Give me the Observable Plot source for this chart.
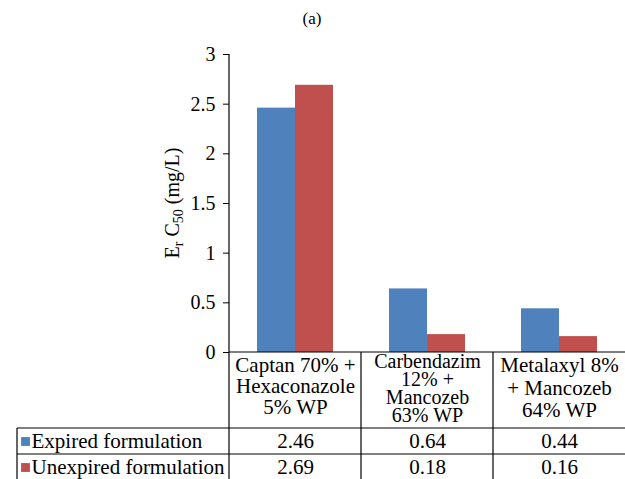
<!DOCTYPE html>
<html><head><meta charset="utf-8">
<script src="https://cdn.jsdelivr.net/npm/d3@7"></script>
<script src="https://cdn.jsdelivr.net/npm/@observablehq/plot@0.6"></script>
<style>html,body{margin:0;padding:0;background:#fff}svg{display:block}#chart text,#chart tspan{font-family:"Liberation Serif" !important}</style>
</head><body><div id="chart"></div>
<script>
const title = "(a)";
const categories = ["Captan 70% + Hexaconazole 5% WP", "Carbendazim 12% + Mancozeb 63% WP", "Metalaxyl 8% + Mancozeb 64% WP"];
const headerLines = [["Captan 70% +", "Hexaconazole", "5% WP"], ["Carbendazim", "12% +", "Mancozeb", "63% WP"], ["Metalaxyl 8%", "+ Mancozeb", "64% WP"]];
const series = ["Expired formulation", "Unexpired formulation"];
const expired = [2.46, 0.64, 0.44];
const unexpired = [2.69, 0.18, 0.16];
const yTicks = [0, 0.5, 1, 1.5, 2, 2.5, 3];
const colors = ["#4F81BD", "#C0504D"];

const rows = categories.flatMap((c, i) => [
  {cat: c, series: series[0], value: expired[i]},
  {cat: c, series: series[1], value: unexpired[i]}
]);

const FF = "Liberation Serif";
const W = 625, H = 479, mT = 54, mB = 127, mL = 229;
const bw = (W - mL) / 3;
const barW = 38;
const outer = (bw - 2 * barW) / 2;
const FS = 21;

const headerLayout = [{dy: 5, lh: 1.0, fs: 21}, {dy: 3, lh: 0.9, fs: 20}, {dy: 4, lh: 1.07, fs: 21}];

const marks = [
  Plot.barY(rows.filter(d => d.series === series[0]), {x: "cat", y: "value", fill: "series", insetLeft: outer, insetRight: bw - outer - barW}),
  Plot.barY(rows.filter(d => d.series === series[1]), {x: "cat", y: "value", fill: "series", insetLeft: outer + barW, insetRight: outer}),
  Plot.axisY({ticks: yTicks, tickFormat: d => String(d), tickSize: 6, tickPadding: 8, fontSize: 20, fontFamily: FF, label: null}),
  ...categories.map((c, i) => Plot.text([c], {
    x: d => d, text: () => headerLines[i].join("\n"), frameAnchor: "bottom", lineAnchor: "top",
    dy: headerLayout[i].dy, lineHeight: headerLayout[i].lh, fontSize: headerLayout[i].fs, fontFamily: FF, fill: "#000"
  })),
  Plot.text(rows.filter(d => d.series === series[0]), {x: "cat", text: d => d.value.toFixed(2), frameAnchor: "bottom", lineAnchor: "top", dy: 81, fontSize: FS, fontFamily: FF, fill: "#000"}),
  Plot.text(rows.filter(d => d.series === series[1]), {x: "cat", text: d => d.value.toFixed(2), frameAnchor: "bottom", lineAnchor: "top", dy: 107, fontSize: FS, fontFamily: FF, fill: "#000"}),
  Plot.text([series[0]], {text: d => d, frameAnchor: "bottom-left", textAnchor: "start", lineAnchor: "top", dx: 31 - mL, dy: 81, fontSize: FS, fontFamily: FF, fill: "#000"}),
  Plot.text([series[1]], {text: d => d, frameAnchor: "bottom-left", textAnchor: "start", lineAnchor: "top", dx: 31 - mL, dy: 107, fontSize: FS, fontFamily: FF, fill: "#000"}),
  Plot.dot([series[0]], {fill: d => d, symbol: "square", r: 5, frameAnchor: "bottom-left", dx: 25 - mL, dy: 89}),
  Plot.dot([series[1]], {fill: d => d, symbol: "square", r: 5, frameAnchor: "bottom-left", dx: 25 - mL, dy: 115})
];

const plot = Plot.plot({
  width: W, height: H,
  marginTop: mT, marginBottom: mB, marginLeft: mL, marginRight: 0,
  x: {domain: categories, padding: 0, axis: null},
  y: {domain: [0, 3], axis: null},
  color: {domain: series, range: colors},
  marks
});

document.getElementById("chart").appendChild(plot);
plot.setAttribute("font-family", FF);
plot.removeAttribute("class");
plot.style.background = "#fff";

const svg = d3.select(plot);
const xs = plot.scale("x"), ys = plot.scale("y");
const left = xs.range[0], right = W;
const yTop = ys.apply(3), yZero = ys.apply(0);
const hdrBottom = yZero + 76, row1Bottom = hdrBottom + 26;
const g = svg.append("g").attr("stroke", "#000").attr("stroke-width", 1.2).attr("fill", "none");
const seg = (x1, y1, x2, y2) => g.append("line").attr("x1", x1).attr("y1", y1).attr("x2", x2).attr("y2", y2);
seg(left, yTop, left, H);
seg(left, yZero, right, yZero);
categories.slice(0, -1).forEach(c => {
  const xb = xs.apply(c) + xs.bandwidth;
  seg(xb, yZero, xb, H);
});
seg(17, hdrBottom, right, hdrBottom);
seg(17, row1Bottom, right, row1Bottom);
seg(17, hdrBottom, 17, H);

svg.append("text").attr("x", 312).attr("y", 24).attr("text-anchor", "middle")
  .attr("font-family", FF).attr("font-size", 17).attr("fill", "#000").text(title);

const yl = svg.append("text").attr("transform", `translate(179,${(yTop + yZero) / 2}) rotate(-90)`)
  .attr("text-anchor", "middle").attr("font-family", FF).attr("font-size", 20).attr("fill", "#000");
yl.append("tspan").text("E");
yl.append("tspan").attr("dy", 4).attr("font-size", 14).text("r");
yl.append("tspan").attr("dy", -4).text(" C");
yl.append("tspan").attr("dy", 4).attr("font-size", 14).text("50");
yl.append("tspan").attr("dy", -4).text(" (mg/L)");
</script></body></html>
